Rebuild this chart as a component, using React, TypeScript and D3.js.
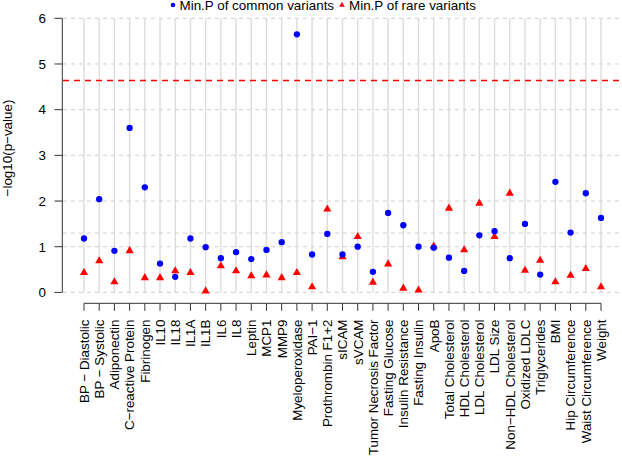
import React from "react";
import * as d3 from "d3";

const categories = [
  "BP − Diastolic", "BP − Systolic", "Adiponectin", "C−reactive Protein", "Fibrinogen",
  "IL10", "IL18", "IL1A", "IL1B", "IL6", "IL8", "Leptin", "MCP1", "MMP9",
  "Myeloperoxidase", "PAI−1", "Prothrombin F1+2", "sICAM", "sVCAM",
  "Tumor Necrosis Factor", "Fasting Glucose", "Insulin Resistance", "Fasting Insulin",
  "ApoB", "Total Cholesterol", "HDL Cholesterol", "LDL Cholesterol", "LDL Size",
  "Non−HDL Cholesterol", "Oxidized LDLC", "Triglycerides", "BMI",
  "Hip Circumference", "Waist Circumference", "Weight",
];

const commonVariants = [
  1.18, 2.04, 0.91, 3.60, 2.30, 0.63, 0.34, 1.18, 0.99, 0.75, 0.88, 0.73, 0.93, 1.10,
  5.65, 0.83, 1.28, 0.83, 1.00, 0.45, 1.74, 1.47, 1.00, 0.98, 0.76, 0.47, 1.25, 1.34,
  0.75, 1.50, 0.39, 2.42, 1.31, 2.17, 1.63,
];

const rareVariants = [
  0.43, 0.69, 0.23, 0.91, 0.32, 0.32, 0.47, 0.43, 0.03, 0.58, 0.47, 0.36, 0.38, 0.32,
  0.43, 0.12, 1.82, 0.78, 1.22, 0.22, 0.62, 0.09, 0.05, 1.01, 1.84, 0.93, 1.95, 1.22,
  2.17, 0.48, 0.70, 0.23, 0.37, 0.52, 0.12,
];

const yTicks = [0, 1, 2, 3, 4, 5, 6];
const nominalThreshold = 1.3;
const bonferroniThreshold = 4.64;
const legendLabels = ["Min.P of common variants", "Min.P of rare variants"];

const W = 622;
const H = 458;
const FONT = "'Liberation Sans', Arial, sans-serif";
const FS = 13.4;

export default function App() {
  const idx = categories.map((_, i) => i + 1);
  const x = d3.scaleLinear().domain([1, categories.length]).range([84, 601]);
  const y = d3.scaleLinear().domain([0, 6]).range([292.4, 18.3]);
  const plotLeft = 63;
  const plotRight = 622;
  const axisY = 303.3;

  const tri = d3.symbol().type(d3.symbolTriangle).size(29)();
  const triSmall = d3.symbol().type(d3.symbolTriangle).size(14)();

  return (
    <svg
      width={W}
      height={H}
      style={{ position: "absolute", left: 0, top: 0, background: "#fff" }}
      fontFamily={FONT}
    >
      <rect width={W} height={H} fill="#fff" />
      {/* vertical grid lines */}
      {idx.map((i) => (
        <line key={"v" + i} x1={x(i)} x2={x(i)} y1={y(6)} y2={y(0)} stroke="#dcdcdc" strokeWidth={1.4} />
      ))}
      {/* horizontal dashed grid */}
      {yTicks.map((t) => (
        <line key={"h" + t} x1={plotLeft} x2={plotRight} y1={y(t)} y2={y(t)} stroke="#d0d0d0" strokeWidth={1} strokeDasharray="4,4" />
      ))}
      <line x1={plotLeft} x2={plotRight} y1={y(nominalThreshold)} y2={y(nominalThreshold)} stroke="#d0d0d0" strokeWidth={1} strokeDasharray="4,4" />
      <line x1={plotLeft} x2={plotRight} y1={y(bonferroniThreshold)} y2={y(bonferroniThreshold)} stroke="#ff0000" strokeWidth={1.6} strokeDasharray="6,5" />

      {/* y axis */}
      <line x1={62.3} x2={62.3} y1={y(0)} y2={y(6)} stroke="#333" strokeWidth={1} />
      {yTicks.map((t) => (
        <g key={"yt" + t}>
          <line x1={54.5} x2={62.3} y1={y(t)} y2={y(t)} stroke="#333" strokeWidth={1} />
          <text x={46} y={y(t)} dy="0.36em" textAnchor="end" fontSize={FS} fill="#000">{t}</text>
        </g>
      ))}
      <text
        transform={`translate(12,148) rotate(-90)`}
        textAnchor="middle"
        fontSize={FS}
        fill="#000"
      >
        −log10(p−value)
      </text>

      {/* x axis */}
      <line x1={x(1)} x2={x(categories.length)} y1={axisY} y2={axisY} stroke="#333" strokeWidth={1} />
      {categories.map((c, i) => (
        <g key={"xt" + i}>
          <line x1={x(i + 1)} x2={x(i + 1)} y1={axisY} y2={axisY + 7.5} stroke="#333" strokeWidth={1} />
          <text
            transform={`translate(${x(i + 1)},319.5) rotate(-90)`}
            dy="0.36em"
            textAnchor="end"
            fontSize={FS}
            fill="#000"
          >
            {c}
          </text>
        </g>
      ))}

      {/* points */}
      {rareVariants.map((v, i) => (
        <path key={"r" + i} d={tri} transform={`translate(${x(i + 1)},${y(v)})`} fill="#ff0000" />
      ))}
      {commonVariants.map((v, i) => (
        <circle key={"c" + i} cx={x(i + 1)} cy={y(v)} r={3.15} fill="#0000ff" />
      ))}

      {/* legend */}
      <circle cx={173} cy={5} r={2.3} fill="#0000ff" />
      <text x={179.5} y={10} fontSize={FS} fill="#000">{legendLabels[0]}</text>
      <path d={triSmall} transform="translate(342,5)" fill="#ff0000" />
      <text x={349} y={10} fontSize={FS} fill="#000">{legendLabels[1]}</text>
    </svg>
  );
}
